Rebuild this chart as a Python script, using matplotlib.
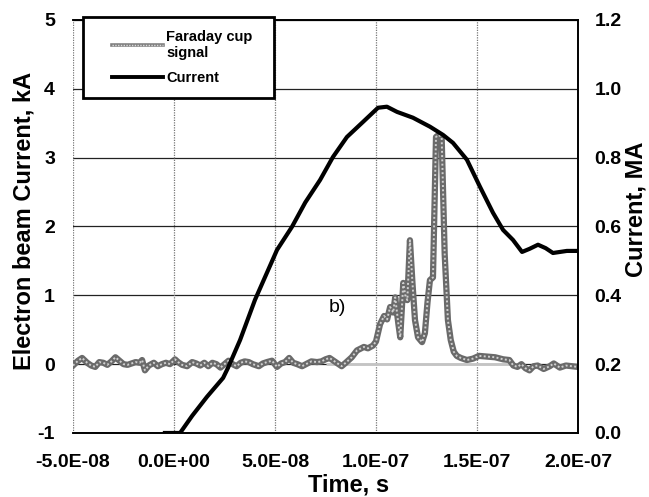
import numpy as np
import matplotlib
matplotlib.use("Agg")
import matplotlib.pyplot as plt
from matplotlib.lines import Line2D
from matplotlib.legend_handler import HandlerLine2D, HandlerTuple

plt.rcParams['font.family'] = ['Liberation Sans', 'DejaVu Sans']
plt.rcParams['axes.unicode_minus'] = False

# Faraday cup signal (time in ns, electron beam current in kA)
faraday_t = [
    -50, -47.5, -45.5, -43, -41, -39, -37, -35, -33, -31, -29, -27, -25, -23, -21,
    -19, -17, -15.8, -14.4, -12.5, -10, -8, -6, -4, -2, 0.5, 2, 4, 6.5, 9, 11, 13,
    15, 17, 19, 21, 23, 25, 27, 29, 31, 33, 35, 37, 39, 42, 44, 46, 48.5, 51, 53,
    55, 57, 59, 61, 63.4, 66, 68, 70.8, 73, 75, 77, 80, 83, 85, 88, 90.6, 92, 94,
    96, 98.5, 100, 102, 104, 105.5, 107, 108.5, 109.5, 111, 112, 113.5, 114.5,
    115.5, 116.8, 118, 119.3, 120.8, 122.8, 124.2, 125.5, 126.7, 128.2, 129.7,
    131, 132.5, 134, 135.6, 137, 138.5, 140, 142, 145, 148, 151, 155, 159, 163,
    166, 168, 170, 172, 174, 176, 178, 180, 183, 186, 188, 191, 194, 197, 200,
]
faraday_ka = [
    -0.02, 0.05, 0.09, 0.02, -0.02, -0.04, 0.03, 0.02, -0.01, 0.04, 0.10, 0.05,
    0.00, -0.01, 0.01, 0.03, 0.02, 0.06, -0.09, -0.02, 0.02, -0.03, 0.00, 0.02,
    0.00, 0.07, 0.03, -0.01, -0.03, 0.03, 0.01, -0.02, 0.02, -0.03, 0.02, 0.00,
    -0.05, 0.00, 0.05, 0.00, -0.03, 0.02, 0.04, 0.03, 0.00, -0.03, 0.01, 0.03,
    0.05, -0.04, 0.01, 0.03, 0.09, 0.02, 0.00, -0.03, 0.01, 0.04, 0.03, 0.04,
    0.07, 0.09, 0.03, -0.03, 0.02, 0.10, 0.20, 0.22, 0.25, 0.23, 0.27, 0.33,
    0.58, 0.70, 0.65, 0.83, 0.75, 0.97, 0.60, 0.39, 1.18, 1.00, 0.93, 1.80,
    1.20, 0.64, 0.39, 0.32, 0.45, 0.90, 1.22, 1.26, 3.30, 3.33, 3.30, 1.60,
    0.64, 0.35, 0.18, 0.12, 0.09, 0.06, 0.08, 0.12, 0.11, 0.10, 0.07, 0.06,
    -0.02, -0.04, 0.00, -0.06, -0.09, -0.03, -0.02, -0.07, -0.03, 0.01, -0.05,
    -0.02, -0.03, -0.04,
]

# total current (time in ns, MA)
current_t = [
    -4.5, 3, 9, 16.3, 24.3, 26.7, 32.7, 40.1, 51.0, 58.4, 65, 72.3, 78.7, 85.6,
    93.6, 101.0, 105.4, 110.4, 118.3, 126.7, 133.2, 138.1, 145.0, 151.5, 157.9,
    162.9, 167.8, 172.3, 176, 180.2, 184, 187.6, 194.5, 200,
]
current_ma = [
    0.0, 0.0, 0.05, 0.105, 0.160, 0.189, 0.270, 0.387, 0.532, 0.599, 0.67, 0.735,
    0.802, 0.860, 0.904, 0.945, 0.948, 0.933, 0.916, 0.890, 0.866, 0.843, 0.794,
    0.715, 0.640, 0.590, 0.561, 0.526, 0.535, 0.547, 0.537, 0.523, 0.529, 0.529,
]

xticks = [-5e-8, 0, 5e-8, 1e-7, 1.5e-7, 2e-7]
xtick_labels = ["-5.0E-08", "0.0E+00", "5.0E-08", "1.0E-07", "1.5E-07", "2.0E-07"]
left_ticks = [-1, 0, 1, 2, 3, 4, 5]
right_ticks = [0.0, 0.2, 0.4, 0.6, 0.8, 1.0, 1.2]

ft = np.array(faraday_t) * 1e-9
ct = np.array(current_t) * 1e-9

fig = plt.figure(figsize=(6.49, 4.97), dpi=100)
ax = fig.add_axes([0.1125, 0.1288, 0.7781, 0.831])
ax2 = ax.twinx()

ax.set_xlim(-5e-8, 2e-7)
ax.set_ylim(-1, 5)
ax2.set_ylim(0, 1.2)

# grid: solid horizontal, dotted vertical
for y in left_ticks:
    ax.axhline(y, color='#222222', lw=0.9, zorder=1)
for x in xticks:
    ax.axvline(x, color='#777777', lw=0.9, ls=(0, (1, 1)), zorder=1)

ax.hlines(0, 75e-9, 168e-9, color='#c4c4c4', lw=2, zorder=1.5)

ax.plot(ft, faraday_ka, color='#6a6a6a', lw=4.5, solid_joinstyle='round', zorder=2)
ax.plot(ft, faraday_ka, color='#d0d0d0', lw=1.4, ls=(0, (1, 1.2)), zorder=2.1)

ax2.plot(ct, current_ma, color='black', lw=3, solid_joinstyle='round', zorder=3)

ax.text(80.7e-9, 0.83, "b)", fontsize=14, ha='center', va='center')

ax.set_xticks(xticks)
ax.set_xticklabels(xtick_labels)
ax.set_yticks(left_ticks)
ax2.set_yticks(right_ticks)
ax2.set_yticklabels([f"{v:.1f}" for v in right_ticks])

for a in (ax, ax2):
    a.tick_params(length=0, labelsize=14)
    for lab in a.get_xticklabels() + a.get_yticklabels():
        lab.set_fontweight('bold')
ax.tick_params(axis='y', pad=13)
ax.tick_params(axis='x', pad=15)
ax2.tick_params(axis='y', pad=12)

ax.spines['left'].set_visible(False)
ax2.spines['left'].set_visible(False)
for s in ('top', 'right', 'bottom'):
    ax2.spines[s].set_linewidth(1.2)
    ax.spines[s].set_linewidth(1.2)

ax.set_xlabel("Time, s", fontsize=17, fontweight='bold')
ax.xaxis.set_label_coords(0.545, -0.098)
ax.set_ylabel("Electron beam Current, kA", fontsize=17, fontweight='bold')
ax.yaxis.set_label_coords(-0.075, 0.513)
ax2.set_ylabel("Current, MA", fontsize=17, fontweight='bold')
ax2.yaxis.set_label_coords(1.093, 0.542)

# legend: handles pushed right inside the box like the original
h_far = (Line2D([], [], color='#808080', lw=2.6), Line2D([], [], color='#dddddd', lw=1, ls=(0, (1, 1))))
h_cur = Line2D([], [], color='black', lw=2.8)
leg = ax2.legend([h_far, h_cur], ["Faraday cup\nsignal", "Current"],
                 loc='upper left', bbox_to_anchor=(0.0198, 1.008, 0.378, 0.0),
                 mode='expand', borderaxespad=0, fancybox=False, framealpha=1,
                 edgecolor='black', prop={'weight': 'bold', 'size': 10.5},
                 handlelength=4.6, handletextpad=0.2, borderpad=0.9,
                 labelspacing=0.75,
                 handler_map={tuple: HandlerTuple(ndivide=1, xpad=1.1),
                              Line2D: HandlerLine2D(xpad=1.1)})
leg.get_frame().set_linewidth(2)
leg.set_zorder(10)

fig.savefig("out.png", dpi=100)
